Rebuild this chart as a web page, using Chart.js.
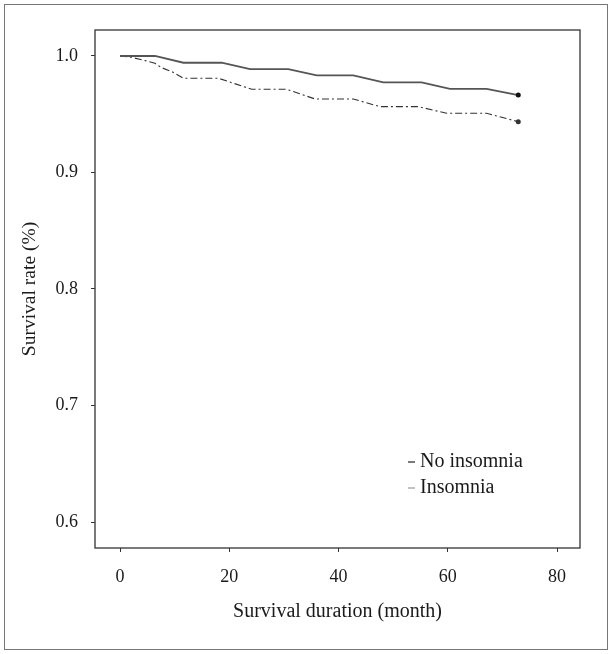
<!DOCTYPE html>
<html>
<head>
<meta charset="utf-8">
<script src="https://cdn.jsdelivr.net/npm/chart.js@4"></script>
<style>
  body { margin: 0; background: #fff; }
  #wrap { width: 611px; height: 654px; position: relative; }
</style>
</head>
<body>
<div id="wrap"><canvas id="myChart" width="611" height="654"></canvas></div>
<script>
// survival curves (months, survival proportion)
const noInsMonths = [0, 6.4, 11.6, 18.6, 23.8, 30.8, 36.0, 42.7, 48.2, 55.2, 60.4, 67.1, 72.9]
const noInsRate = [1.0, 1.0, 0.9942, 0.9942, 0.9888, 0.9888, 0.9834, 0.9834, 0.9774, 0.9774, 0.9717, 0.9717, 0.9665]

const insMonths = [0, 2.1, 4.6, 6.4, 7.6, 9.5, 11.6, 18.0, 24.1, 30.5, 35.7, 42.7, 47.6, 54.6, 59.8, 67.1, 72.9]
const insRate = [1.0, 0.9989, 0.996, 0.9937, 0.990, 0.9865, 0.9809, 0.9809, 0.9714, 0.9714, 0.9631, 0.9631, 0.9565, 0.9565, 0.9508, 0.9508, 0.9436]

const xTicks = [0, 20, 40, 60, 80]
const yTicks = [0.6, 0.7, 0.8, 0.9, 1.0]
const seriesNames = ['No insomnia', 'Insomnia']

const serif = "'Liberation Serif', 'DejaVu Serif', serif"
const toPoints = (xs, ys) => xs.map((x, i) => ({ x: x, y: ys[i] }))

// frame around the figure + box around the plot
const boxPlugin = {
    id: 'boxes',
    afterDraw(chart) {
        const ctx = chart.ctx
        const a = chart.chartArea
        ctx.save()
        ctx.strokeStyle = '#777'
        ctx.lineWidth = 1
        ctx.strokeRect(4.5, 4.5, 603, 645)
        ctx.strokeStyle = '#333'
        ctx.lineWidth = 1.3
        ctx.strokeRect(a.left, a.top, a.right - a.left, a.bottom - a.top)
        ctx.restore()
    }
}

// legend in the lower right of the plot
const legendPlugin = {
    id: 'innerLegend',
    afterDraw(chart) {
        const ctx = chart.ctx
        const a = chart.chartArea
        const x0 = a.left + 313
        const rows = [a.top + 432, a.top + 458]
        ctx.save()
        ctx.font = '20px ' + serif
        ctx.textBaseline = 'middle'
        ctx.fillStyle = '#1a1a1a'
        chart.data.datasets.forEach((ds, i) => {
            ctx.beginPath()
            ctx.strokeStyle = i === 0 ? '#222' : '#999'
            ctx.lineWidth = 1.2
            ctx.moveTo(x0, rows[i])
            ctx.lineTo(x0 + 7, rows[i])
            ctx.stroke()
            ctx.fillText(ds.label, x0 + 12, rows[i])
        })
        ctx.restore()
    }
}

const lastDot = (n) => (c) => c.dataIndex === n - 1 ? 2.5 : 0

var ctx = document.getElementById('myChart').getContext('2d');
var chart = new Chart(ctx, {
    type: 'line',
    data: {
        datasets: [{
            label: seriesNames[0],
            data: toPoints(noInsMonths, noInsRate),
            borderColor: '#555',
            borderWidth: 1.8,
            pointRadius: lastDot(noInsMonths.length),
            pointBackgroundColor: '#111',
            pointBorderWidth: 0
        },
        {
            label: seriesNames[1],
            data: toPoints(insMonths, insRate),
            borderColor: '#333',
            borderWidth: 1.1,
            borderDash: [7, 3, 2, 3],
            pointRadius: lastDot(insMonths.length),
            pointBackgroundColor: '#333',
            pointBorderWidth: 0
        }]
    },
    options: {
        responsive: false,
        animation: false,
        layout: { padding: { left: 0, top: 30, right: 31, bottom: 0 } },
        plugins: { legend: { display: false }, tooltip: { enabled: false } },
        scales: {
            x: {
                type: 'linear',
                min: -4.58,
                max: 84.2,
                afterBuildTicks: (s) => { s.ticks = xTicks.map(v => ({ value: v })) },
                afterFit: (s) => { s.height = 106 },
                grid: { display: true, drawOnChartArea: false, drawTicks: true, tickLength: 4, color: '#333' },
                border: { display: false },
                ticks: { font: { family: serif, size: 18 }, color: '#1a1a1a', padding: 14, maxRotation: 0 },
                title: { display: true, text: 'Survival duration (month)', font: { family: serif, size: 20 }, color: '#1a1a1a', padding: { top: 0, bottom: 30 } }
            },
            y: {
                min: 0.5777,
                max: 1.0223,
                afterBuildTicks: (s) => { s.ticks = yTicks.map(v => ({ value: v })) },
                afterFit: (s) => { s.width = 95 },
                grid: { display: true, drawOnChartArea: false, drawTicks: true, tickLength: 4, color: '#333' },
                border: { display: false },
                ticks: { font: { family: serif, size: 18 }, color: '#1a1a1a', padding: 13, callback: (v) => Number(v).toFixed(1) },
                title: { display: true, text: 'Survival rate (%)', font: { family: serif, size: 19.5 }, color: '#1a1a1a', padding: { top: 18, bottom: 0 } }
            }
        }
    },
    plugins: [boxPlugin, legendPlugin]
});
</script>
</body>
</html>
